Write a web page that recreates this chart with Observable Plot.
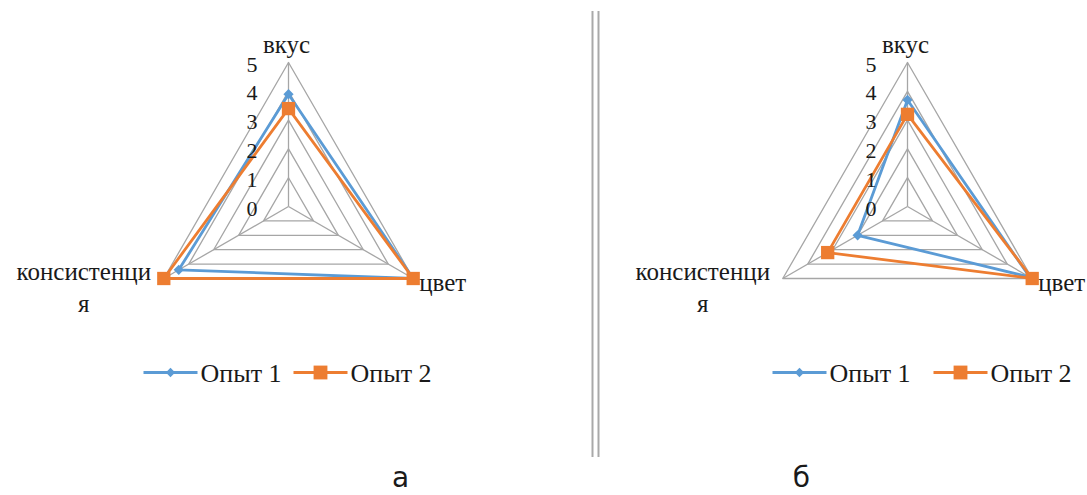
<!DOCTYPE html>
<html>
<head>
<meta charset="utf-8">
<script src="https://cdn.jsdelivr.net/npm/d3@7"></script>
<script src="https://cdn.jsdelivr.net/npm/@observablehq/plot@0.6"></script>
<style>
  html, body { margin: 0; padding: 0; background: #fff; }
  #chart { width: 1087px; height: 495px; }
  #chart svg text { font-family: "Liberation Serif", "Times New Roman", serif !important; }
  #chart svg g.panel-letter text { font-family: "DejaVu Sans", sans-serif !important; }
</style>
</head>
<body>
<div id="chart"></div>
<script>
// ---- data ----
const panels = ["а", "б"];
const categories = ["вкус", "цвет", "консистенция"];
const categoryLabels = ["вкус", "цвет", "консистенци\nя"];
const seriesNames = ["Опыт 1", "Опыт 2"];
const opyt1_a = [3.9, 5.0, 4.4];
const opyt2_a = [3.4, 5.0, 5.0];
const opyt1_b = [3.7, 4.9, 2.0];
const opyt2_b = [3.2, 5.0, 3.2];
const tickValues = [0, 1, 2, 3, 4, 5];
const gridLevels = [1, 2, 3, 4, 5];

// ---- layout ----
const W = 1087, H = 495;
const U = 28.8;                       // px per score unit
const CXA = 288, CXB = 907, CY = 206;  // radar centres (px)
const px2x = p => (p - CXA) / U;
const px2y = p => (CY - p) / U;
const off = {"а": 0, "б": (CXB - CXA) / U};
const angleDeg = [0, 120, 240];
const sinA = i => Math.sin(angleDeg[i] * Math.PI / 180);
const cosA = i => Math.cos(angleDeg[i] * Math.PI / 180);
const blue = "#5b9bd5", orange = "#ed7d31", grid = "#a6a6a6", ink = "#1a1a1a";
const serif = "Liberation Serif, serif";

const seriesData = {"а": [opyt1_a, opyt2_a], "б": [opyt1_b, opyt2_b]};
const rows = [];
panels.forEach(p => seriesNames.forEach((s, si) => categories.forEach((c, ci) => {
  rows.push({panel: p, series: s, ci, value: seriesData[p][si][ci]});
})));
const rings = [];
panels.forEach(p => gridLevels.forEach(k => categories.forEach((c, ci) => rings.push({panel: p, k, ci}))));
const spokes = [];
panels.forEach(p => categories.forEach((c, ci) => spokes.push({panel: p, ci, k: 5})));
const tickRows = [];
panels.forEach(p => tickValues.forEach(k => tickRows.push({panel: p, k})));
const catRows = [];
panels.forEach(p => categories.forEach((c, ci) => catRows.push({panel: p, ci, label: categoryLabels[ci]})));

const legendX = {"а": [143, 293], "б": [772, 933]};
const legendLen = 54, legendY = 372;
const legendRows = [];
panels.forEach(p => seriesNames.forEach((s, i) => legendRows.push({panel: p, series: s, x0: legendX[p][i]})));

const px = d => off[d.panel] + d.value * sinA(d.ci);
const py = d => d.value * cosA(d.ci);

const catStyle = [
  {textAnchor: "middle", lineAnchor: "middle", dx: -2, dy: -20},
  {textAnchor: "start", lineAnchor: "middle", dx: 6, dy: 2},
  {textAnchor: "middle", lineAnchor: "top", dx: -80, dy: -21}
];

const marks = [
  Plot.line(rings, {x: d => off[d.panel] + d.k * sinA(d.ci), y: d => d.k * cosA(d.ci),
    z: d => d.panel + d.k, curve: "linear-closed", stroke: grid, strokeWidth: 1.3}),
  Plot.link(spokes, {x1: d => off[d.panel], y1: 0,
    x2: d => off[d.panel] + d.k * sinA(d.ci), y2: d => d.k * cosA(d.ci), stroke: grid, strokeWidth: 1.3}),
];
seriesNames.forEach((s, si) => {
  const data = rows.filter(d => d.series === s);
  marks.push(Plot.line(data, {x: px, y: py, z: d => d.panel, curve: "linear-closed",
    stroke: d => d.series, strokeWidth: 2.8, strokeLinejoin: "round"}));
  marks.push(Plot.dot(data, {x: px, y: py, fill: d => d.series, symbol: d => d.series,
    r: si === 0 ? 4.6 : 7.5, stroke: "none"}));
});
catStyle.forEach((st, ci) => {
  marks.push(Plot.text(catRows.filter(d => d.ci === ci), {
    x: d => off[d.panel] + 5 * sinA(d.ci), y: d => 5 * cosA(d.ci), text: "label",
    fontFamily: serif, fontSize: 25, fill: ink, lineHeight: 1.28, ...st}));
});
marks.push(Plot.text(tickRows, {x: d => off[d.panel], y: "k", text: d => String(d.k),
  textAnchor: "end", dx: -31, dy: 2, fontFamily: serif, fontSize: 22, fill: ink}));
// legend
marks.push(Plot.link(legendRows, {x1: d => px2x(d.x0), x2: d => px2x(d.x0 + legendLen),
  y1: px2y(legendY), y2: px2y(legendY), stroke: d => d.series, strokeWidth: 2.8}));
seriesNames.forEach((s, si) => {
  marks.push(Plot.dot(legendRows.filter(d => d.series === s), {x: d => px2x(d.x0 + legendLen / 2),
    y: px2y(legendY), fill: d => d.series, symbol: d => d.series, r: si === 0 ? 4.2 : 7.8, stroke: "none"}));
});
marks.push(Plot.text(legendRows, {x: d => px2x(d.x0 + legendLen + 3), y: px2y(legendY), text: "series",
  textAnchor: "start", dy: 1, fontFamily: serif, fontSize: 26, fill: ink}));
// divider and panel letters
marks.push(Plot.ruleX([592, 598].map(px2x), {y1: px2y(11), y2: px2y(457), stroke: "#a9a9a9", strokeWidth: 2}));
const letters = Plot.text(panels, {x: (d, i) => px2x([400, 801][i]), y: px2y(478), text: d => d,
  fontFamily: "DejaVu Sans", fontSize: 28, fill: ink});
marks.push(letters);

const chart = Plot.plot({
  width: W, height: H, margin: 0,
  x: {domain: [px2x(0), px2x(W)], axis: null},
  y: {domain: [px2y(H), px2y(0)], axis: null},
  color: {domain: seriesNames, range: [blue, orange]},
  symbol: {domain: seriesNames, range: ["diamond2", "square"]},
  style: {background: "#fff", overflow: "visible"},
  marks
});
// tag the panel-letter group so the sans-serif rule applies to it
d3.select(chart).selectAll("g[aria-label='text']").filter(function() {
  return d3.select(this).attr("font-family") === "DejaVu Sans";
}).classed("panel-letter", true);
document.getElementById("chart").appendChild(chart);
</script>
</body>
</html>
